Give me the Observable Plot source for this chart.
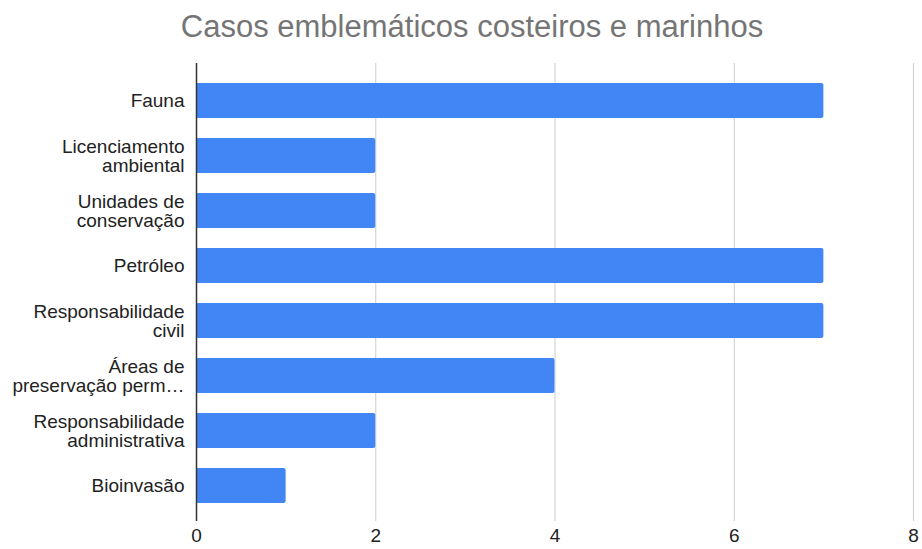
<!DOCTYPE html>
<html>
<head>
<meta charset="utf-8">
<script src="https://cdn.jsdelivr.net/npm/d3@7"></script>
<script src="https://cdn.jsdelivr.net/npm/@observablehq/plot@0.6"></script>
<style>
  html, body { margin: 0; padding: 0; background: #fff; }
  body { width: 922px; height: 549px; overflow: hidden; font-family: "Liberation Sans", Arial, sans-serif; }
  #title { height: 55px; box-sizing: border-box; padding-top: 8px; padding-left: 22px; text-align: center; font-size: 31px; color: #757575; line-height: 38px; }
</style>
</head>
<body>
<div id="title">Casos emblemáticos costeiros e marinhos</div>
<div id="chart"></div>
<script>
const categories = [
  "Fauna",
  "Licenciamento ambiental",
  "Unidades de conservação",
  "Petróleo",
  "Responsabilidade civil",
  "Áreas de preservação permanente",
  "Responsabilidade administrativa",
  "Bioinvasão"
];
const labels = [
  "Fauna",
  "Licenciamento\nambiental",
  "Unidades de\nconservação",
  "Petróleo",
  "Responsabilidade\ncivil",
  "Áreas de\npreservação perm…",
  "Responsabilidade\nadministrativa",
  "Bioinvasão"
];
const values = [7, 2, 2, 7, 7, 4, 2, 1];
const xTicks = [0, 2, 4, 6, 8];

const data = categories.map((c, i) => ({category: c, label: labels[i], value: values[i]}));

const chart = Plot.plot({
  width: 922,
  height: 494,
  marginLeft: 196,
  marginRight: 9,
  marginTop: 8,
  marginBottom: 28,
  style: {fontFamily: "Liberation Sans, Arial, sans-serif", fontSize: "19px", color: "#222", background: "#fff"},
  x: {domain: [0, 8], label: null},
  y: {domain: categories, range: [18.5, 458.5], paddingInner: 0.36, paddingOuter: 0.18, axis: null},
  marks: [
    Plot.gridX(xTicks.filter(d => d > 0), {stroke: "#ccc", strokeOpacity: 1, strokeWidth: 1}),
    Plot.axisX(xTicks, {tickSize: 0, tickPadding: 7, fontSize: 19, fill: "#222", label: null}),
    Plot.barX(data, {x: "value", y: "category", fill: "#4285F4", rx: 2}),
    Plot.ruleX([0], {stroke: "#333", strokeWidth: 1.5}),
    Plot.text(data, {y: "category", text: "label", frameAnchor: "left", textAnchor: "end", dx: -12, lineHeight: 1, fill: "#222", fontSize: 19})
  ]
});
document.getElementById("chart").appendChild(chart);
</script>
</body>
</html>
